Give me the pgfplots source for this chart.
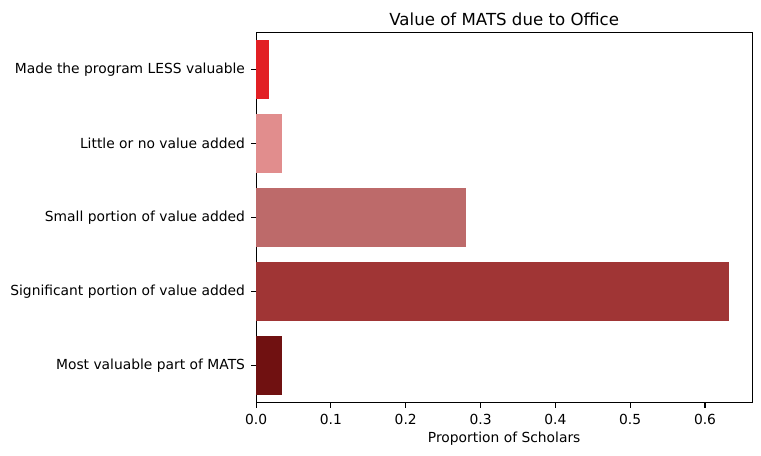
\documentclass[border=0pt]{standalone}
\usepackage{pgfplots}
\pgfplotsset{compat=1.18}
\usepackage{fontspec}
\setmainfont{DejaVu Sans}
\definecolor{c1}{RGB}{226,31,36}
\definecolor{c2}{RGB}{225,141,141}
\definecolor{c3}{RGB}{189,106,106}
\definecolor{c4}{RGB}{160,53,53}
\definecolor{c5}{RGB}{112,17,17}
\begin{document}
\begin{tikzpicture}
\begin{axis}[
  scale only axis, width=4.96in, height=3.70in,
  bar width=0.8, bar shift=0pt,
  xmin=0, xmax=0.6632, ymin=-0.5, ymax=4.5,
  axis line style={line width=0.8pt, black},
  ytick={0,1,2,3,4},
  yticklabels={Most valuable part of MATS, Significant portion of value added, Small portion of value added, Little or no value added, Made the program LESS valuable},
  xtick={0,0.1,0.2,0.3,0.4,0.5,0.6},
  xticklabels={0.0,0.1,0.2,0.3,0.4,0.5,0.6},
  tick pos=left,
  tick align=outside, major tick length=3.5pt,
  every tick/.style={draw=black, line width=0.8pt},
  tick label style={font=\fontsize{10}{12}\selectfont},
  xticklabel style={yshift=-1pt},
  yticklabel style={xshift=-1pt},
  title={Value of MATS due to Office},
  title style={font=\fontsize{12}{14.4}\selectfont, at={(axis description cs:0.5,1)}, anchor=base, yshift=-1pt},
  xlabel={Proportion of Scholars},
  xlabel style={font=\fontsize{10}{12}\selectfont, at={(axis description cs:0.5,0)}, anchor=base, yshift=-28.8pt},
  clip=false,
]
\addplot[xbar, bar width=0.8, bar shift=0pt, fill=c1, draw=none] coordinates {(0.017544,4)};
\addplot[xbar, bar width=0.8, bar shift=0pt, fill=c2, draw=none] coordinates {(0.035088,3)};
\addplot[xbar, bar width=0.8, bar shift=0pt, fill=c3, draw=none] coordinates {(0.280702,2)};
\addplot[xbar, bar width=0.8, bar shift=0pt, fill=c4, draw=none] coordinates {(0.631579,1)};
\addplot[xbar, bar width=0.8, bar shift=0pt, fill=c5, draw=none] coordinates {(0.035088,0)};
\pgfplotsinvokeforeach{0,1,2,3,4}{\draw[line width=0.8pt, black] (axis cs:0,#1) -- ([xshift=-3.5pt]axis cs:0,#1);}
\end{axis}
\pgfresetboundingbox
\path (current axis.south west) ++(-2.56in,-0.527in) rectangle ([shift={(0.087in,0.327in)}]current axis.north east);
\end{tikzpicture}
\end{document}
